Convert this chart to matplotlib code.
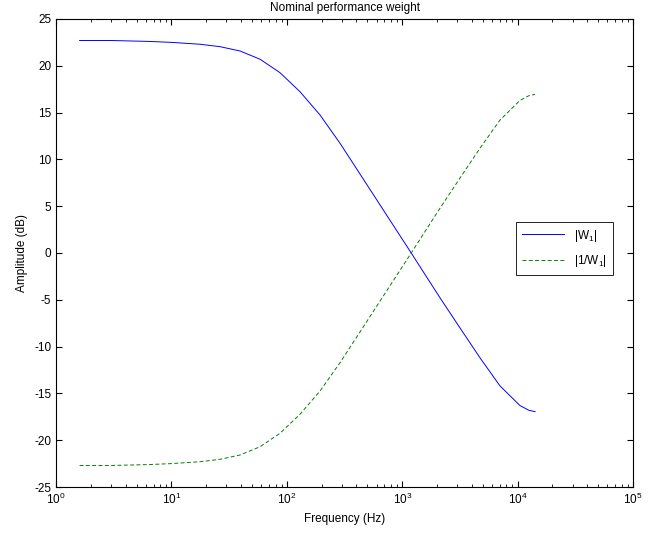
import matplotlib
matplotlib.use("Agg")
import matplotlib.pyplot as plt

plt.rcParams['font.family'] = ['Liberation Sans', 'DejaVu Sans']
plt.rcParams['font.size'] = 8.5
plt.rcParams['axes.unicode_minus'] = False
plt.rcParams['mathtext.fontset'] = 'custom'
plt.rcParams['mathtext.rm'] = 'Liberation Sans'
plt.rcParams['mathtext.it'] = 'Liberation Sans'

# frequências (Hz)
freq = [1.6, 3, 6.5, 10, 17.7, 26.4, 39.3, 58.6, 87.3, 130, 194, 289, 417,
        645, 1140, 2128, 3164, 4721, 7030, 10480, 12500, 14160]
# |W1| em dB
w1_db = [22.7, 22.7, 22.6, 22.5, 22.3, 22.04, 21.58, 20.7, 19.26, 17.23,
         14.74, 11.72, 8.7, 5.1, 0.4, -4.8, -8.0, -11.2, -14.2, -16.3,
         -16.8, -16.95]
# |1/W1| em dB
inv_w1_db = [-22.7, -22.7, -22.6, -22.5, -22.3, -22.04, -21.58, -20.7,
             -19.26, -17.23, -14.74, -11.72, -8.7, -5.1, -0.4, 4.8, 8.0,
             11.2, 14.2, 16.3, 16.8, 16.95]

fig = plt.figure(figsize=(6.5, 5.33), dpi=100)
ax = fig.add_axes([0.0862, 0.0863, 0.8877, 0.8781])

ax.semilogx(freq, w1_db, '-', color=(0, 0, 1), lw=0.7, label='|W$_1$|')
ax.semilogx(freq, inv_w1_db, '--', color=(0, 0.5, 0), lw=0.7,
            dashes=(4, 2.5), label='|1/W$_1$|')

ax.set_xlim(1, 1e5)
ax.set_ylim(-25, 25)
ax.set_yticks(range(-25, 26, 5))
ax.tick_params(which='both', direction='in', top=True, right=True)
ax.tick_params(which='major', length=4)
ax.tick_params(which='minor', length=2)

ax.set_title('Nominal performance weight', fontsize=8.5)
ax.set_xlabel('Frequency (Hz)')
ax.set_ylabel('Amplitude (dB)')

leg = ax.legend(loc='center', bbox_to_anchor=(0.881, 0.51), fancybox=False,
                edgecolor='black', framealpha=1, borderaxespad=0,
                handlelength=3.6, labelspacing=0.8, borderpad=0.5)
leg.get_frame().set_linewidth(0.6)

fig.savefig('out.png', dpi=100)
